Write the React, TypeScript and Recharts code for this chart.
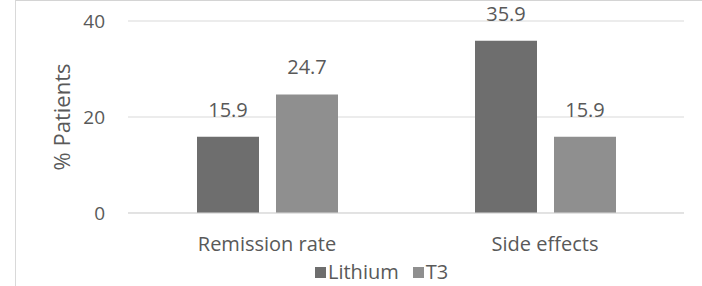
import { Bar, BarChart, CartesianGrid, LabelList, Legend, XAxis, YAxis } from 'recharts';

const CATEGORIES = ['Remission rate', 'Side effects'];
const LITHIUM = [15.9, 35.9];
const T3 = [24.7, 15.9];
const Y_TICKS = [0, 20, 40];

const data = CATEGORIES.map((name, i) => ({ name, lithium: LITHIUM[i], t3: T3[i] }));

const FONT = '"Open Sans", sans-serif';
const TEXT = '#595959';

function AxisTitle(props: any) {
  const vb = props.viewBox ?? { x: 0, y: 0, width: 0, height: 0 };
  const cx = vb.x + 61;
  const cy = vb.y + vb.height / 2;
  return (
    <text
      x={cx}
      y={cy}
      transform={`rotate(-90, ${cx}, ${cy})`}
      textAnchor="middle"
      dominantBaseline="central"
      fill={TEXT}
      fontSize={22}
      fontFamily={FONT}
    >
      % Patients
    </text>
  );
}

function LegendContent(props: any) {
  const items = props.payload ?? [];
  return (
    <div style={{ display: 'flex', alignItems: 'center', height: 28 }}>
      {items.map((it: any) => (
        <div key={it.value} style={{ display: 'flex', alignItems: 'center', marginRight: 14 }}>
          <span style={{ width: 11, height: 11, background: it.color, marginRight: 2, display: 'inline-block' }} />
          <span style={{ color: TEXT, fontSize: 20, fontFamily: FONT, lineHeight: '28px' }}>{it.value}</span>
        </div>
      ))}
    </div>
  );
}

export default function App() {
  return (
    <div style={{ position: 'fixed', left: 0, top: 0, width: 702, height: 286, background: '#fff' }}>
      <div
        style={{
          position: 'absolute',
          left: 15,
          top: 0,
          right: 0,
          bottom: 0,
          borderLeft: '1px solid #d9d9d9',
          borderTop: '1px solid #d4d4d4',
        }}
      />
      <BarChart
        width={702}
        height={286}
        data={data}
        margin={{ top: 21, right: 18, left: 0, bottom: 0 }}
        barSize={62}
        barGap={17}
        style={{ fontFamily: FONT }}
      >
        <CartesianGrid vertical={false} stroke="#d9d9d9" />
        <XAxis
          dataKey="name"
          height={45}
          axisLine={{ stroke: '#d9d9d9' }}
          tickLine={false}
          tickSize={0}
          tickMargin={24}
          tick={{ fill: TEXT, fontSize: 20, fontFamily: FONT }}
        />
        <YAxis
          width={128}
          domain={[0, 40]}
          ticks={Y_TICKS}
          axisLine={false}
          tickLine={false}
          tickSize={0}
          tickMargin={23}
          tick={{ fill: TEXT, fontSize: 19, fontFamily: FONT }}
          label={{ content: AxisTitle }}
        />
        <Legend
          verticalAlign="bottom"
          height={28}
          content={LegendContent}
          wrapperStyle={{ left: 315, width: 'auto' }}
        />
        <Bar dataKey="lithium" name="Lithium" fill="#6e6e6e" isAnimationActive={false}>
          <LabelList dataKey="lithium" position="top" offset={20} fill={TEXT} fontSize={20} fontFamily={FONT} />
        </Bar>
        <Bar dataKey="t3" name="T3" fill="#8f8f8f" isAnimationActive={false}>
          <LabelList dataKey="t3" position="top" offset={20} fill={TEXT} fontSize={20} fontFamily={FONT} />
        </Bar>
      </BarChart>
    </div>
  );
}
